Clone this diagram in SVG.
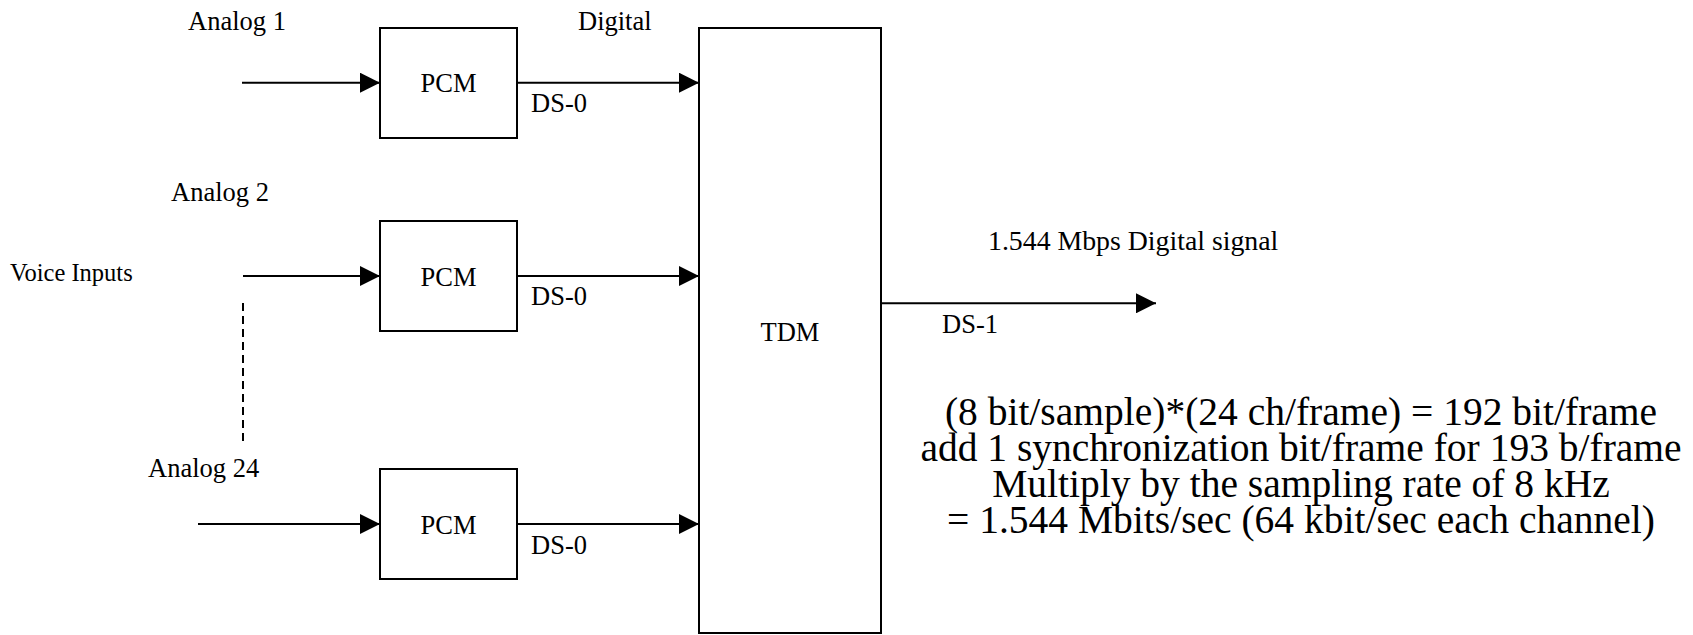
<svg xmlns="http://www.w3.org/2000/svg" width="1693" height="635" viewBox="0 0 1693 635">
  <style>
    .box { fill: #ffffff; stroke: #000000; stroke-width: 2; }
    .wire { fill: none; stroke: #000000; stroke-width: 2; }
    .dash { fill: none; stroke: #000000; stroke-width: 2; stroke-dasharray: 8 5; }
    text { font-family: "Liberation Serif", "Times New Roman", serif; fill: #000000; }
    .lbl { font-size: 26.5px; }
    .small { font-size: 24.5px; }
    .mid { text-anchor: middle; }
    .big { font-size: 39.5px; text-anchor: middle; }
  </style>
  <defs>
    <marker id="arrow" markerUnits="userSpaceOnUse" markerWidth="20" markerHeight="20" refX="20" refY="10" orient="auto" viewBox="0 0 20 20">
      <path d="M0,0 L20,10 L0,20 Z" fill="#000000"/>
    </marker>
  </defs>

  <g id="connectors">
    <line class="wire" x1="242" y1="82.7" x2="380" y2="82.7" marker-end="url(#arrow)"/>
    <line class="wire" x1="517" y1="82.7" x2="699" y2="82.7" marker-end="url(#arrow)"/>
    <line class="wire" x1="243" y1="276" x2="380" y2="276" marker-end="url(#arrow)"/>
    <line class="wire" x1="517" y1="276" x2="699" y2="276" marker-end="url(#arrow)"/>
    <line class="wire" x1="198" y1="524" x2="380" y2="524" marker-end="url(#arrow)"/>
    <line class="wire" x1="517" y1="524" x2="699" y2="524" marker-end="url(#arrow)"/>
    <line class="wire" x1="881" y1="303.3" x2="1156" y2="303.3" marker-end="url(#arrow)"/>
    <line class="dash" x1="243" y1="303" x2="243" y2="442"/>
  </g>

  <g id="pcm1">
    <rect class="box" x="380" y="28" width="137" height="110"/>
    <text class="lbl mid" x="448.5" y="92">PCM</text>
  </g>
  <g id="pcm2">
    <rect class="box" x="380" y="221" width="137" height="110"/>
    <text class="lbl mid" x="448.5" y="285.5">PCM</text>
  </g>
  <g id="pcm3">
    <rect class="box" x="380" y="469" width="137" height="110"/>
    <text class="lbl mid" x="448.5" y="533.5">PCM</text>
  </g>
  <g id="tdm">
    <rect class="box" x="699" y="28" width="182" height="605"/>
    <text class="lbl mid" x="790" y="341">TDM</text>
  </g>

  <g id="labels">
    <text class="lbl" x="188" y="30">Analog 1</text>
    <text class="lbl" x="578" y="30">Digital</text>
    <text class="lbl" x="531" y="112">DS-0</text>
    <text class="lbl" x="171" y="201">Analog 2</text>
    <text class="small" x="10" y="281">Voice Inputs</text>
    <text class="lbl" x="531" y="305">DS-0</text>
    <text class="lbl" x="148" y="477">Analog 24</text>
    <text class="lbl" x="531" y="554">DS-0</text>
    <text class="lbl" x="988" y="250" style="font-size:27.8px">1.544 Mbps Digital signal</text>
    <text class="lbl" x="942" y="333">DS-1</text>
  </g>

  <g id="calculation">
    <text class="big" x="1301" y="425">(8 bit/sample)*(24 ch/frame) = 192 bit/frame</text>
    <text class="big" x="1301" y="461">add 1 synchronization bit/frame for 193 b/frame</text>
    <text class="big" x="1301" y="497">Multiply by the sampling rate of 8 kHz</text>
    <text class="big" x="1301" y="533">= 1.544 Mbits/sec (64 kbit/sec each channel)</text>
  </g>
</svg>
